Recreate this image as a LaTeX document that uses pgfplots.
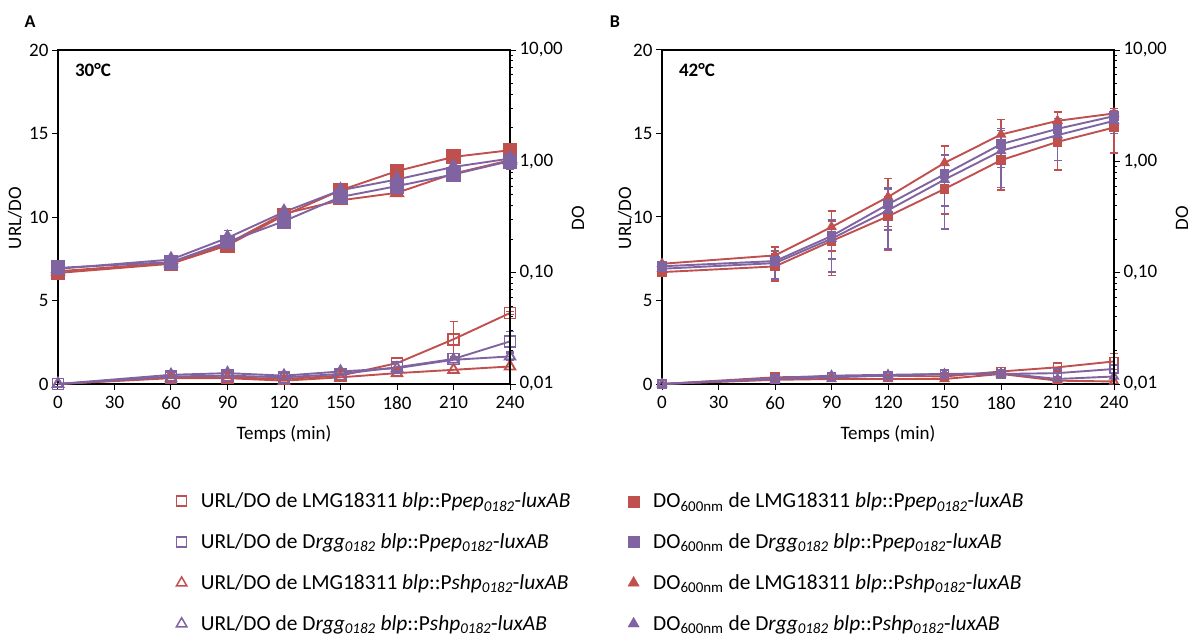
\documentclass[border=0pt]{standalone}
\usepackage{pgfplots}
\pgfplotsset{compat=1.18}
\usepackage{fontspec}
\setmainfont{Carlito}
\definecolor{cred}{RGB}{192,80,77}
\definecolor{cpur}{RGB}{128,100,162}

\newcommand{\pep}{P\textit{pep}\textsubscript{\textit{0182}}-\textit{luxAB}}
\newcommand{\shp}{P\textit{shp}\textsubscript{\textit{0182}}-\textit{luxAB}}
\newcommand{\lmg}{LMG18311 \textit{blp}::}
\newcommand{\drgg}{D\textit{rgg}\textsubscript{\textit{0182}} \textit{blp}::}
\newcommand{\dox}{DO\textsubscript{600nm}}
\newcommand{\lbl}{\fontsize{19bp}{22bp}\selectfont}

\pgfplotsset{
  base/.style={scale only axis, width=452bp, height=334bp, xmin=0, xmax=240,
    tick label style={font=\lbl},
    tick align=outside, major tick length=6bp,
    tick style={black, line width=1bp}, clip=false,
    axis line style={line width=1.8bp}},
  lin/.style={base, ymin=0, ymax=20, ytick={0,5,...,20}, xtick={0,30,...,240},
    ytick pos=left, xtick pos=bottom, xticklabel style={yshift=-3bp}},
  lg/.style={base, ymin=0.01, ymax=10, axis y line*=right,
    axis x line=none, ytick={0.01,0.1,1,10},
    yticklabels={{0,01},{0,10},{1,00},{10,00}}},
  ser/.style={line width=1.9bp, error bars/y dir=both, error bars/y explicit,
    error bars/error bar style={line width=1.5bp},
    error bars/error mark options={rotate=90, mark size=4bp, line width=1.5bp}},
  leg/.style={legend cell align=left, legend columns=1,
    legend style={draw=none, fill=none, font=\fontsize{21.4bp}{25bp}\selectfont,
      row sep=20.5bp, anchor=north west,
      /tikz/every odd column/.append style={column sep=12bp}}},
}

\begin{document}
\begin{tikzpicture}
% ---------------- A : 30 C ----------------
\begin{axis}[lin, at={(0,0)}, leg, legend style={at={(0.255,-0.314)}},
  /pgf/number format/assume math mode=true]
\addlegendimage{only marks, mark=square, mark size=5bp, cred, mark options={line width=1.5bp}}
\addlegendimage{only marks, mark=square, mark size=5bp, cpur, mark options={line width=1.5bp}}
\addlegendimage{only marks, mark=triangle, mark size=6bp, cred, mark options={line width=1.5bp}}
\addlegendimage{only marks, mark=triangle, mark size=6bp, cpur, mark options={line width=1.5bp}}
\addplot[cred, ser, mark=triangle, mark size=6bp, mark options={fill=white}] coordinates {
(0,0) (60,0.35) (90,0.35) (120,0.2) (150,0.4) (180,0.65) (210,0.85) (240,1.05)};
\addplot[cred, ser, mark=square, mark size=5.5bp, mark options={fill=white}] coordinates {
(0,0) (60,0.4) (90,0.4) (120,0.3) (150,0.5) (180,1.25) (210,2.68) +- (0,1.05) (240,4.25) +- (0,0.1)};
\addplot[cpur, ser, mark=triangle, mark size=6bp, mark options={fill=white}] coordinates {
(0,0) (60,0.55) (90,0.65) (120,0.5) (150,0.75) (180,0.95) (210,1.45) (240,1.65) +- (0,0.2)};
\addplot[cpur, ser, mark=square, mark size=5.5bp, mark options={fill=white}] coordinates {
(0,0) (60,0.45) (90,0.5) (120,0.4) (150,0.6) (180,1.0) (210,1.5) (240,2.55) +- (0,0.6)};
\legend{URL/DO de \lmg\pep, URL/DO de \drgg\pep, URL/DO de \lmg\shp, URL/DO de \drgg\shp}
\node[anchor=west, font=\lbl\bfseries] at (rel axis cs:0.03,0.94) {30°C};
\end{axis}
\begin{axis}[lg, ymode=log, at={(0,0)}, leg, legend style={at={(1.254,-0.314)}}]
\addlegendimage{only marks, mark=square*, mark size=5.5bp, cred}
\addlegendimage{only marks, mark=square*, mark size=5.5bp, cpur}
\addlegendimage{only marks, mark=triangle*, mark size=6.5bp, cred}
\addlegendimage{only marks, mark=triangle*, mark size=6.5bp, cpur}
\addplot[cred, ser, mark=triangle*, mark size=7bp] coordinates {
(0,0.1029) (60,0.1224) (90,0.1820) (120,0.3388) (150,0.4467) (180,0.5218) +- (0,0.03) (210,0.7762) (240,1.0233)};
\addplot[cred, ser, mark=square*, mark size=6.5bp] coordinates {
(0,0.0994) (60,0.1202) (90,0.1758) (120,0.3273) (150,0.5495) (180,0.8178) +- (0,0.06) (210,1.0965) +- (0,0.07) (240,1.2589) +- (0,0.1)};
\addplot[cpur, ser, mark=triangle*, mark size=7bp] coordinates {
(0,0.1084) (60,0.1311) (90,0.2054) +- (0,0.035) (120,0.3508) (150,0.5495) +- (0,0.08) (180,0.6879) (210,0.8913) (240,1.0593)};
\addplot[cpur, ser, mark=square*, mark size=6.5bp] coordinates {
(0,0.1103) (60,0.1245) (90,0.1884) (120,0.2901) (150,0.4786) (180,0.5991) (210,0.7631) (240,1.0058) +- (0,0.15)};
\legend{\dox{} de \lmg\pep, \dox{} de \drgg\pep, \dox{} de \lmg\shp, \dox{} de \drgg\shp}
\end{axis}
% ---------------- B : 42 C ----------------
\begin{axis}[lin, at={(604bp,0)}, /pgf/number format/assume math mode=true]
\addplot[cred, ser, mark=triangle, mark size=4.5bp, mark options={fill=white}] coordinates {
(0,0) (60,0.25) (90,0.3) (120,0.3) (150,0.3) (180,0.6) (210,0.2) (240,0.15)};
\addplot[cred, ser, mark=square, mark size=4bp, mark options={fill=white}] coordinates {
(0,0) (60,0.4) (90,0.45) (120,0.5) (150,0.45) (180,0.75) (210,1.0) (240,1.35) +- (0,0.48)};
\addplot[cpur, ser, mark=triangle, mark size=4.5bp, mark options={fill=white}] coordinates {
(0,0) (60,0.35) (90,0.5) (120,0.55) (150,0.6) (180,0.65) (210,0.3) (240,0.45)};
\addplot[cpur, ser, mark=square, mark size=4bp, mark options={fill=white}] coordinates {
(0,0) (60,0.3) (90,0.4) (120,0.5) (150,0.6) (180,0.6) (210,0.65) (240,0.9) +- (0,0.2)};
\node[anchor=west, font=\lbl\bfseries] at (rel axis cs:0.03,0.94) {42°C};
\end{axis}
\begin{axis}[lg, ymode=log, at={(604bp,0)}]
\addplot[cred, ser, mark=square*, mark size=4bp] coordinates {
(0,0.1012) +- (0,0.005) (60,0.1138) +- (0,0.03) (90,0.1923) +- (0,0.098) (120,0.3206) +- (0,0.16)
(150,0.5649) +- (0,0.23) (180,1.0233) +- (0,0.47) (210,1.496) +- (0,0.66) (240,2.014) +- (0,0.82)};
\addplot[cred, ser, mark=triangle*, mark size=4.5bp] coordinates {
(0,0.1202) +- (0,0.005) (60,0.1429) +- (0,0.027) (90,0.2570) +- (0,0.10) (120,0.4786) +- (0,0.22)
(150,0.9683) +- (0,0.40) (180,1.742) +- (0,0.63) (210,2.312) +- (0,0.47) (240,2.692) +- (0,0.3)};
\addplot[cpur, ser, mark=triangle*, mark size=4.5bp] coordinates {
(0,0.1084) +- (0,0.005) (60,0.1219) +- (0,0.034) (90,0.2018) +- (0,0.10) (120,0.3631) +- (0,0.20)
(150,0.6855) +- (0,0.44) (180,1.2417) +- (0,0.66) (210,1.718) +- (0,0.70) (240,2.312) +- (0,0.53)};
\addplot[cpur, ser, mark=square*, mark size=4bp] coordinates {
(0,0.1141) +- (0,0.005) (60,0.1271) +- (0,0.02) (90,0.2133) +- (0,0.08) (120,0.4111) +- (0,0.17)
(150,0.7656) +- (0,0.37) (180,1.426) +- (0,0.55) (210,1.959) +- (0,0.3) (240,2.547) +- (0,0.2)};
\end{axis}
% labels
\node[font=\fontsize{18bp}{22bp}\selectfont\bfseries] at (-28bp,362bp) {A};
\node[font=\fontsize{18bp}{22bp}\selectfont\bfseries] at (557bp,362bp) {B};
\node[font=\lbl, rotate=90] at (-43bp,166bp) {URL/DO};
\node[font=\lbl, rotate=90] at (567bp,166bp) {URL/DO};
\node[font=\lbl, rotate=90] at (520bp,166bp) {DO};
\node[font=\lbl, rotate=90] at (1124bp,166bp) {DO};
\node[font=\lbl] at (226bp,-50bp) {Temps (min)};
\node[font=\lbl] at (830bp,-50bp) {Temps (min)};
\pgfresetboundingbox
\path (-58bp,-257bp) rectangle (1134bp,384bp);
\end{tikzpicture}
\end{document}
